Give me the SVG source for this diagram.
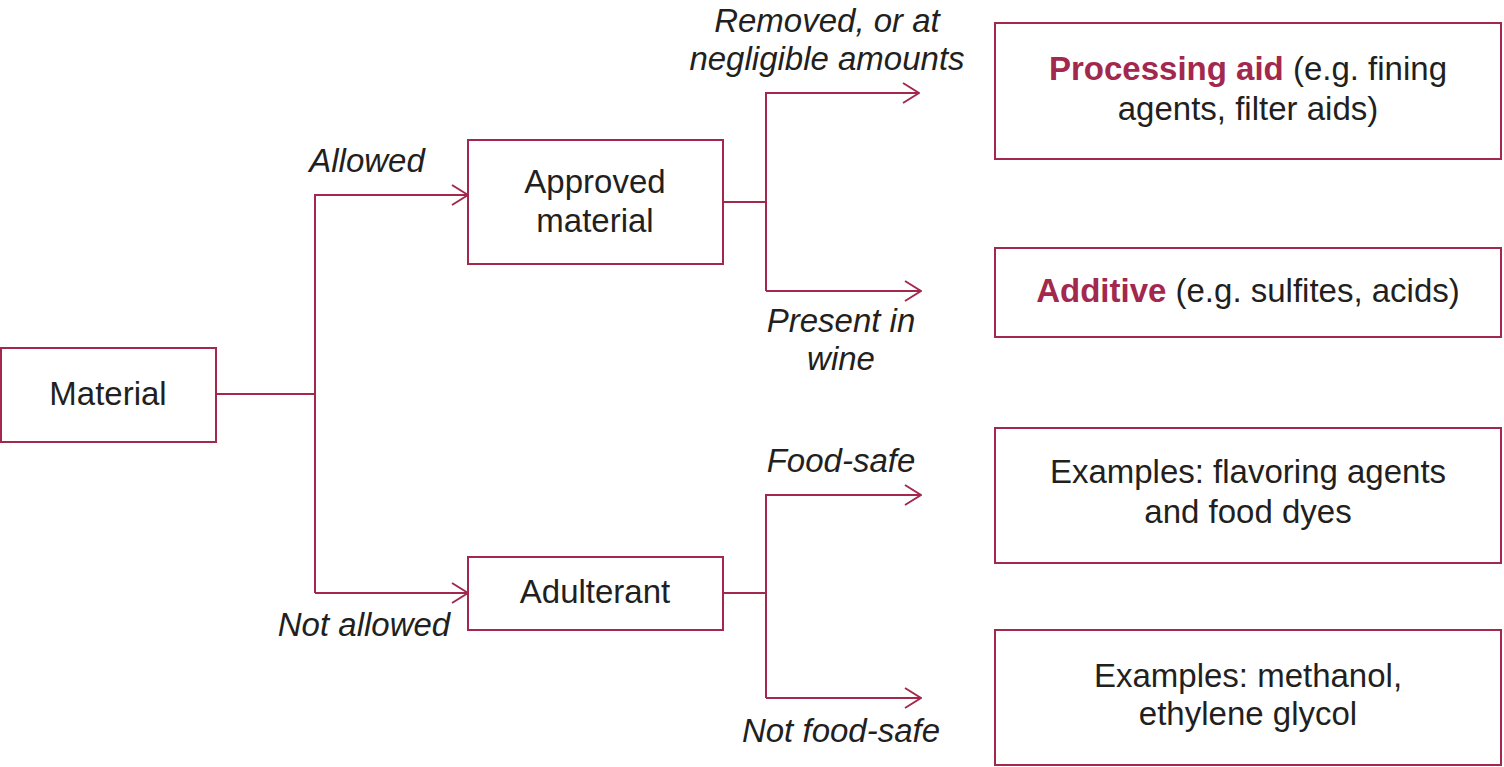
<svg xmlns="http://www.w3.org/2000/svg" width="1504" height="767" viewBox="0 0 1504 767">
<style>
.box{fill:#fff;stroke:#a3284e;stroke-width:2}
.ln{fill:none;stroke:#a3284e;stroke-width:2}
.t{font-family:"Liberation Sans",Arial,sans-serif;font-size:33px;fill:#231f20;text-anchor:middle}
.i{font-style:italic}
.b{font-weight:bold;fill:#a3284e}
</style>
<defs>
<marker id="arr" markerUnits="userSpaceOnUse" viewBox="0 0 18 22" refX="17" refY="11" markerWidth="18" markerHeight="22" orient="auto">
<path d="M1,1 L17,11 L1,21" fill="none" stroke="#a3284e" stroke-width="2"/>
</marker>
</defs>
<rect width="1504" height="767" fill="#fff"/>
<g id="connectors">
<path class="ln" d="M216,394 H315"/>
<path class="ln" d="M315,593 V195 H468" marker-end="url(#arr)"/>
<path class="ln" d="M315,593 H468" marker-end="url(#arr)"/>
<path class="ln" d="M723,202 H766"/>
<path class="ln" d="M766,291 V93 H919" marker-end="url(#arr)"/>
<path class="ln" d="M766,291 H921" marker-end="url(#arr)"/>
<path class="ln" d="M723,593 H766"/>
<path class="ln" d="M766,698 V495 H921" marker-end="url(#arr)"/>
<path class="ln" d="M766,698 H921" marker-end="url(#arr)"/>
<text class="t i" x="367" y="172">Allowed</text>
<text class="t i" x="364" y="636">Not allowed</text>
<text class="t i" x="827" y="32">Removed, or at</text>
<text class="t i" x="827" y="70">negligible amounts</text>
<text class="t i" x="841" y="332">Present in</text>
<text class="t i" x="841" y="370">wine</text>
<text class="t i" x="841" y="472">Food-safe</text>
<text class="t i" x="841" y="742">Not food-safe</text>
</g>
<g id="material">
<rect class="box" x="1" y="348" width="215" height="94"/>
<text class="t" x="108" y="405">Material</text>
</g>
<g id="approved">
<rect class="box" x="468" y="140" width="255" height="124"/>
<text class="t" x="595" y="193">Approved</text>
<text class="t" x="595" y="232">material</text>
</g>
<g id="adulterant">
<rect class="box" x="468" y="557" width="255" height="73"/>
<text class="t" x="595" y="603">Adulterant</text>
</g>
<g id="processing-aid">
<rect class="box" x="995" y="23" width="506" height="136"/>
<text class="t" x="1248" y="80"><tspan class="b">Processing aid</tspan> (e.g. fining</text>
<text class="t" x="1248" y="120">agents, filter aids)</text>
</g>
<g id="additive">
<rect class="box" x="995" y="248" width="506" height="89"/>
<text class="t" x="1248" y="302"><tspan class="b">Additive</tspan> (e.g. sulfites, acids)</text>
</g>
<g id="food-safe-examples">
<rect class="box" x="995" y="428" width="506" height="135"/>
<text class="t" x="1248" y="483">Examples: flavoring agents</text>
<text class="t" x="1248" y="523">and food dyes</text>
</g>
<g id="not-food-safe-examples">
<rect class="box" x="995" y="630" width="506" height="135"/>
<text class="t" x="1248" y="687">Examples: methanol,</text>
<text class="t" x="1248" y="725">ethylene glycol</text>
</g>
</svg>
